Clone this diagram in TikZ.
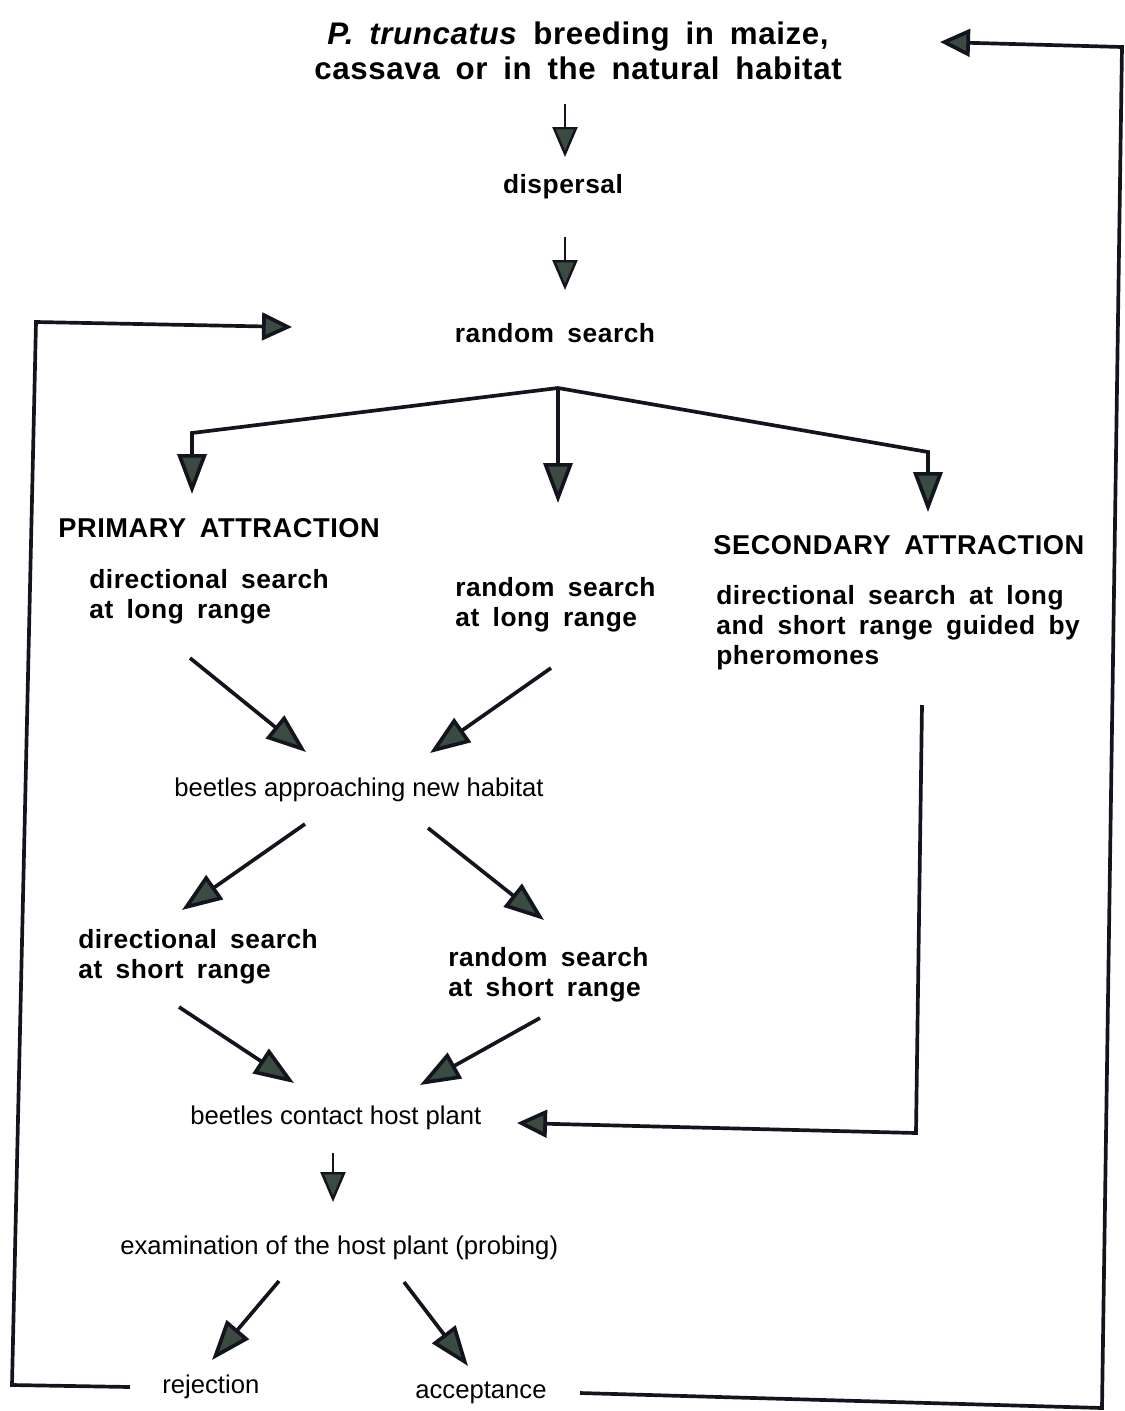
\documentclass[tikz,border=0pt]{standalone}
\usepackage{fontspec}
\setmainfont{Liberation Sans}
\newfontfamily\hb{Liberation Sans}[WordSpace=1.7,LetterSpace=2]
\newfontfamily\hr{Liberation Sans}
\usetikzlibrary{arrows.meta}
\definecolor{arrowfill}{RGB}{58,76,66}
\definecolor{ink}{RGB}{20,20,30}
\begin{document}
\begin{tikzpicture}[x=0.02cm,y=-0.02cm,
  toptxt/.style={inner sep=0pt,align=center,font={\hb\bfseries\fontsize{17.8}{20}\selectfont}},
  bold/.style={inner sep=0pt,align=left,font={\hb\bfseries\fontsize{15}{17}\selectfont}},
  caps/.style={inner sep=0pt,align=left,font={\hb\bfseries\fontsize{15.5}{17}\selectfont}},
  plain/.style={inner sep=0pt,align=left,font={\hr\fontsize{14.6}{17}\selectfont}},
  conn/.style={draw=ink,line width=2.1pt,line join=miter,-{Triangle[length=0.8cm,width=0.58cm,fill=arrowfill]}},
  short/.style={draw=ink,line width=2.1pt,line join=miter,-{Triangle[length=0.6cm,width=0.55cm,fill=arrowfill]}},
  thin/.style={draw=ink,line width=1.2pt,line join=miter,-{Triangle[length=0.6cm,width=0.5cm,fill=arrowfill,line width=1.4pt]}}
]
\useasboundingbox (0,0) rectangle (1125,1411);

% texts
\node[toptxt] (breed) at (578,51) {\textit{P. truncatus} breeding in maize,\\cassava or in the natural habitat};
\node[bold,anchor=center] (disp) at (563,187) {dispersal};
\node[bold,anchor=center] (rs) at (555,333) {random search};
\node[caps,anchor=west] (prim) at (58,528) {PRIMARY ATTRACTION};
\node[bold,anchor=west] (dlong) at (89,597) {directional search\\at long range};
\node[bold,anchor=west] (rlong) at (455,605) {random search\\at long range};
\node[caps,anchor=west] (sec) at (713,545) {SECONDARY ATTRACTION};
\node[bold,anchor=west] (dphe) at (716,628) {directional search at long\\and short range guided by\\pheromones};
\node[plain,anchor=west] (appr) at (174,790) {beetles approaching new habitat};
\node[bold,anchor=west] (dshort) at (78,957) {directional search\\at short range};
\node[bold,anchor=west] (rshort) at (448,975) {random search\\at short range};
\node[plain,anchor=west] (contact) at (190,1118) {beetles contact host plant};
\node[plain,anchor=west] (exam) at (120,1248) {examination of the host plant (probing)};
\node[plain,anchor=west] (rej) at (162,1387) {rejection};
\node[plain,anchor=west] (acc) at (415,1393) {acceptance};

% coordinates
\coordinate (a1s) at (565,104); \coordinate (a1e) at (565,157);
\coordinate (a2s) at (565,237); \coordinate (a2e) at (565,290);
\coordinate (hub) at (558,388);
\coordinate (bl) at (192,433); \coordinate (ble) at (192,494);
\coordinate (bme) at (558,503);
\coordinate (br) at (928,452); \coordinate (bre) at (928,512);
\coordinate (d1s) at (190,658); \coordinate (d1e) at (306,752);
\coordinate (d2s) at (551,668); \coordinate (d2e) at (430,753);
\coordinate (d3s) at (305,824); \coordinate (d3e) at (182,910);
\coordinate (d4s) at (428,828); \coordinate (d4e) at (544,920);
\coordinate (d5s) at (179,1007); \coordinate (d5e) at (294,1083);
\coordinate (d6s) at (540,1018); \coordinate (d6e) at (420,1085);
\coordinate (a3s) at (333,1153); \coordinate (a3e) at (333,1202);
\coordinate (s1) at (922,705); \coordinate (s2) at (916,1133); \coordinate (s3) at (517,1123);
\coordinate (d7s) at (279,1281); \coordinate (d7e) at (212,1360);
\coordinate (d8s) at (404,1282); \coordinate (d8e) at (468,1366);
\coordinate (r1) at (580,1393); \coordinate (r2) at (1102,1408); \coordinate (r3) at (1122,47); \coordinate (r4) at (940,42);
\coordinate (l1) at (130,1387); \coordinate (l2) at (12,1385); \coordinate (l3) at (36,322); \coordinate (l4) at (292,327);

% connectors
\draw[thin] (a1s) -- (a1e);
\draw[thin] (a2s) -- (a2e);
\draw[thin] (a3s) -- (a3e);
\draw[conn] (hub) -- (bl) -- (ble);
\draw[conn] (hub) -- (bme);
\draw[conn] (hub) -- (br) -- (bre);
\draw[conn] (d1s) -- (d1e);
\draw[conn] (d2s) -- (d2e);
\draw[conn] (d3s) -- (d3e);
\draw[conn] (d4s) -- (d4e);
\draw[conn] (d5s) -- (d5e);
\draw[conn] (d6s) -- (d6e);
\draw[conn] (d7s) -- (d7e);
\draw[conn] (d8s) -- (d8e);
\draw[short] (s1) -- (s2) -- (s3);
\draw[short] (r1) -- (r2) -- (r3) -- (r4);
\draw[short] (l1) -- (l2) -- (l3) -- (l4);
\end{tikzpicture}
\end{document}
